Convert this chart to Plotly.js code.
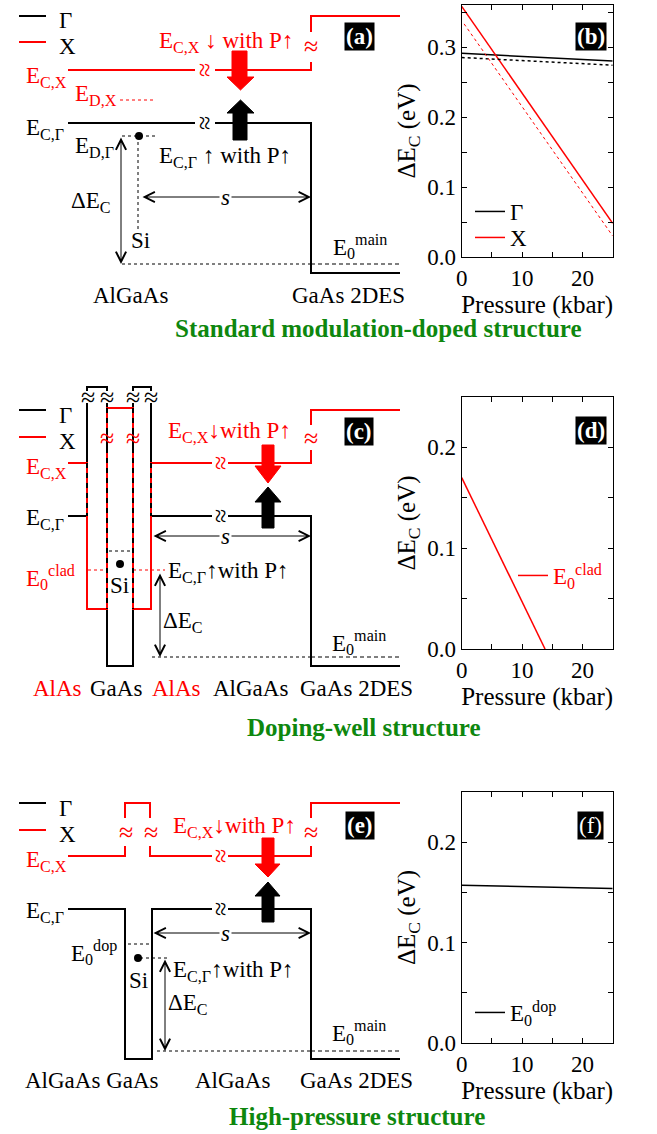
<!DOCTYPE html>
<html><head><meta charset="utf-8">
<script src="https://cdn.plot.ly/plotly-3.0.1.min.js"></script>
<style>html,body{margin:0;padding:0;background:#fff}#chart{width:657px;height:1134px}</style>
</head><body><div id="chart"></div>
<script>
// ===== data for the right-hand plots (pressure in kbar, energy in eV) =====
const pressure = [0, 25];
const gammaB = [0.291, 0.280];
const gammaBdotted = [0.285, 0.274];
const xB = [0.358, 0.048];
const xBdottedP = [0.4, 25];
const xBdotted = [0.333, 0.030];
const cladP = [0, 13.8];
const cladE = [0.170, 0.0];
const dopP = [0, 25];
const dopE = [0.157, 0.154];
const xTickVals = [0, 10, 20];
const xTickText = ['0', '10', '20'];
const yTickValsB = [0, 0.1, 0.2, 0.3];
const yTickTextB = ['0.0', '0.1', '0.2', '0.3'];
const yTickValsDF = [0, 0.1, 0.2];
const yTickTextDF = ['0.0', '0.1', '0.2'];

// ===== schematic band diagrams (schematic units) =====
// (a) standard modulation-doped
const aGammaX = [68,195,null,215,311,311,400];
const aGammaY = [123,123,null,123,123,273,273];
const aXX = [68,195,null,215,311,311,null,311,311,400];
const aXY = [70,70,null,70,70,62,null,32,16,16];
const aMainX = [311,400], aMainY = [264,264];
const aDotX = [122,311,null,122,156,null,138,138];
const aDotY = [264,264,null,136,136,null,136,230];
const aDXX = [120,156], aDXY = [100,100];
const aSiX = [139], aSiY = [136];
const aDownX = [232,247,247,254,240.5,227,232,232], aDownY = [51,51,77,77,90,77,77,51];
const aUpX = [240.5,254,247,247,233,233,227,240.5], aUpY = [100,113,113,140,140,113,113,100];
// (c) doping-well
const cGammaX = [68,87,87,null,87,87,107,107,null,107,107,133,133,null,133,133,151,151,null,151,151,212,null,228,311,311,400];
const cGammaY = [516,516,403,null,391,387,387,391,null,403,666,666,403,null,391,387,387,391,null,403,516,516,null,516,516,666,666];
const cXX = [68,87,87,107,107,null,107,107,133,133,null,133,133,151,151,212,null,228,311,311,null,311,311,400];
const cXY = [463,463,609,609,448,null,428,408,408,428,null,448,609,609,463,463,null,463,463,450,null,425,410,410];
const cOverX = [87,87,null,107,107,null,133,133,null,151,151];
const cOverY = [463,516,null,408,609,null,408,609,null,463,516];
const cDotRedX = [88,107,null,133,165], cDotRedY = [570,570,null,570,570];
const cDotBlkX = [109,131,null,152,311], cDotBlkY = [551,551,null,657,657];
const cMainX = [311,400], cMainY = [657,657];
const cSiX = [120], cSiY = [564];
const cDownX = [262,274,274,281,268,255,262,262], cDownY = [445,445,466,466,483,466,466,445];
const cUpX = [268,281,274,274,262,262,255,268], cUpY = [487,502,502,528,528,502,502,487];
// (e) high-pressure
const eGammaX = [68,125,125,152,152,212,null,228,311,311,400];
const eGammaY = [909,909,1059,1059,909,909,null,909,909,1059,1059];
const eXX = [68,125,125,null,125,125,150,150,null,150,150,212,null,228,311,311,null,311,311,400];
const eXY = [856,856,846,null,818,803,803,818,null,846,856,856,null,856,856,846,null,818,803,803];
const eMainX = [311,400], eMainY = [1051,1051];
const eDotX = [128,150,null,140,170,null,157,311], eDotY = [944,944,null,958,958,null,1051,1051];
const eSiX = [138], eSiY = [958];
const eDownX = [262,274,274,280,268,255,262,262], eDownY = [838,838,864,864,877,864,864,838];
const eUpX = [268,280,274,274,262,262,255,268], eUpY = [882,896,896,922,922,896,896,882];
// keys
const keyX = [19,46];
const keyRowsGamma = [16, 410, 803];
const keyRowsX = [42, 437, 830];

const RED = '#ff0000', BLK = '#000000', GREEN = '#0e870e';
const FONT = 'Liberation Serif, DejaVu Serif, serif';

const data = [];
function L(xs, ys, color, width, dash) {
  data.push({type:'scatter', mode:'lines', x:xs, y:ys, xaxis:'x', yaxis:'y',
    line:{color:color, width:width, dash:dash||'solid'}, hoverinfo:'skip', showlegend:false});
}
function F(xs, ys, color) {
  data.push({type:'scatter', mode:'lines', x:xs, y:ys, xaxis:'x', yaxis:'y', fill:'toself',
    fillcolor:color, line:{color:color, width:1}, hoverinfo:'skip', showlegend:false});
}
function P(xs, ys) {
  data.push({type:'scatter', mode:'markers', x:xs, y:ys, xaxis:'x', yaxis:'y',
    marker:{color:BLK, size:8, symbol:'circle'}, hoverinfo:'skip', showlegend:false});
}
// keys
keyRowsGamma.forEach(r => L(keyX, [r, r], BLK, 2));
keyRowsX.forEach(r => L(keyX, [r, r], RED, 2));
// (a)
L(aDotX, aDotY, BLK, 1, 'dot');
L(aDXX, aDXY, RED, 1, 'dot');
L(aMainX, aMainY, BLK, 1.2, '4px,3px');
L(aGammaX, aGammaY, BLK, 2);
L(aXX, aXY, RED, 2);
P(aSiX, aSiY);
F(aDownX, aDownY, RED); F(aUpX, aUpY, BLK);
// (c)
L(cDotRedX, cDotRedY, RED, 1, 'dot');
L(cDotBlkX, cDotBlkY, BLK, 1, 'dot');
L(cMainX, cMainY, BLK, 1.2, '4px,3px');
L(cGammaX, cGammaY, BLK, 2);
L(cXX, cXY, RED, 2);
L(cOverX, cOverY, BLK, 2, '5px,5px');
P(cSiX, cSiY);
F(cDownX, cDownY, RED); F(cUpX, cUpY, BLK);
// (e)
L(eDotX, eDotY, BLK, 1, 'dot');
L(eMainX, eMainY, BLK, 1.2, '4px,3px');
L(eGammaX, eGammaY, BLK, 2);
L(eXX, eXY, RED, 2);
P(eSiX, eSiY);
F(eDownX, eDownY, RED); F(eUpX, eUpY, BLK);

// ===== right-hand plots =====
data.push({type:'scatter', mode:'lines', x:pressure, y:gammaB, xaxis:'x2', yaxis:'y2', name:'Γ',
  line:{color:BLK, width:1.5}, legend:'legend'});
data.push({type:'scatter', mode:'lines', x:pressure, y:xB, xaxis:'x2', yaxis:'y2', name:'X',
  line:{color:RED, width:1.5}, legend:'legend4'});
data.push({type:'scatter', mode:'lines', x:pressure, y:gammaBdotted, xaxis:'x2', yaxis:'y2', name:'Γ (dotted)',
  line:{color:BLK, width:1.5, dash:'dot'}, showlegend:false});
data.push({type:'scatter', mode:'lines', x:xBdottedP, y:xBdotted, xaxis:'x2', yaxis:'y2', name:'X (dotted)',
  line:{color:RED, width:1, dash:'dot'}, showlegend:false});
data.push({type:'scatter', mode:'lines', x:cladP, y:cladE, xaxis:'x3', yaxis:'y3', name:'E<sub>0</sub><sup>clad</sup>',
  line:{color:RED, width:1.5}, legend:'legend2'});
data.push({type:'scatter', mode:'lines', x:dopP, y:dopE, xaxis:'x4', yaxis:'y4', name:'E<sub>0</sub><sup>dop</sup>',
  line:{color:BLK, width:1.5}, legend:'legend3'});

const H = 1134, W = 657;
const xdom = [461.7/W, 612.7/W];
function ydom(top, bot) { return [1 - bot/H, 1 - top/H]; }
function xAx(anchor) {
  return {domain:xdom, range:[0,25], anchor:anchor, showline:true, mirror:'allticks', linecolor:BLK, linewidth:1,
    ticks:'inside', ticklen:5, tickwidth:1, tickcolor:BLK, tickvals:xTickVals, ticktext:xTickText,
    tickfont:{family:FONT, size:23, color:BLK}, showgrid:false, zeroline:false,
    minor:{ticks:'inside', ticklen:5, tickwidth:1, tickcolor:BLK, dtick:5, tick0:0, showgrid:false},
    title:{text:'Pressure (kbar)', font:{family:FONT, size:25, color:BLK}, standoff:2}, automargin:false, fixedrange:true};
}
function yAx(anchor, dom, top, tv, tt) {
  return {domain:dom, range:[0,top], anchor:anchor, showline:true, mirror:'allticks', linecolor:BLK, linewidth:1,
    ticks:'inside', ticklen:5, tickwidth:1, tickcolor:BLK, tickvals:tv, ticktext:tt,
    tickfont:{family:FONT, size:23, color:BLK}, showgrid:false, zeroline:false,
    minor:{ticks:'inside', ticklen:5, tickwidth:1, tickcolor:BLK, dtick:0.05, tick0:0, showgrid:false},
    title:{text:'ΔE<sub>C</sub> (eV)', font:{family:FONT, size:25, color:BLK}, standoff:4}, automargin:false, fixedrange:true};
}

const ann = [];
function T(x, y, text, color, o) {
  o = o || {};
  ann.push(Object.assign({x:x, y:y, xref:'x', yref:'y', text:text, showarrow:false, xanchor:'left', yanchor:'middle',
    font:{family:FONT, size:23, color:color||BLK}}, o));
}
function Z(x, y, color, rot) {
  ann.push({x:x, y:y, xref:'x', yref:'y', text:'≈', showarrow:false, xanchor:'center', yanchor:'middle',
    textangle: rot ? 90 : 0, font:{family:FONT, size:26, color:color}});
}
function A(x0, y0, x1, y1) {
  ann.push({x:x1, y:y1, ax:x0, ay:y0, xref:'x', yref:'y', axref:'x', ayref:'y', text:'', showarrow:true,
    arrowside:'end+start', arrowhead:5, startarrowhead:5, arrowsize:2, startarrowsize:2, arrowwidth:1,
    arrowcolor:BLK, standoff:0, startstandoff:0, font:{size:1}});
}
function B(x, y, text, bold) {
  ann.push({x:x, y:y, xref:'x', yref:'y', text:text, showarrow:false, xanchor:'center', yanchor:'middle',
    bgcolor:BLK, borderpad:1, font:{family:FONT, size:23, color:'#ffffff', weight: bold === false ? 'normal' : 'bold'}});
}
function G(x, y, text) {
  ann.push({x:x, y:y, xref:'x', yref:'y', text:text, showarrow:false, xanchor:'center', yanchor:'middle',
    font:{family:FONT, size:25, color:GREEN, weight:'bold'}});
}
function S(x, y) {
  ann.push({x:x, y:y, xref:'x', yref:'y', text:'s', showarrow:false, xanchor:'center', yanchor:'middle',
    bgcolor:'#ffffff', font:{family:FONT, size:23, color:BLK, style:'italic'}});
}

// ----- (a) -----
T(57, 20, 'Γ'); T(57, 46, 'X');
T(24, 77, 'E<sub>C,X</sub>', RED);
T(73, 95, 'E<sub>D,X</sub>', RED);
T(24, 129, 'E<sub>C,Γ</sub>');
T(73, 147, 'E<sub>D,Γ</sub>');
T(69, 202, 'ΔE<sub>C</sub>');
T(129, 240, 'Si');
T(157, 42, 'E<sub>C,X</sub> ↓ with P↑', RED);
T(157, 157, 'E<sub>C,Γ</sub> ↑ with P↑');
T(331, 246, 'E<sub>0</sub><sup>main</sup>');
T(91, 295, 'AlGaAs'); T(290, 295, 'GaAs 2DES');
Z(205, 70, RED, true); Z(205, 123, BLK, true); Z(311, 46, RED, false);
A(121, 136, 121, 264);
A(141, 197, 311, 197);
S(225, 197);
B(359.5, 36.5, '(a)'); B(590.5, 36.5, '(b)');
G(378, 328, 'Standard modulation-doped structure');

// ----- (c) -----
T(57, 415, 'Γ'); T(57, 441, 'X');
T(24, 468, 'E<sub>C,X</sub>', RED);
T(24, 519, 'E<sub>C,Γ</sub>');
T(24, 577, 'E<sub>0</sub><sup>clad</sup>', RED);
T(108, 585, 'Si');
T(166, 432, 'E<sub>C,X</sub>↓with P↑', RED);
T(166, 572, 'E<sub>C,Γ</sub>↑with P↑');
T(161, 622, 'ΔE<sub>C</sub>');
T(330, 642, 'E<sub>0</sub><sup>main</sup>');
T(31, 688, 'AlAs', RED); T(88, 688, 'GaAs'); T(150, 688, 'AlAs', RED);
T(211, 688, 'AlGaAs'); T(298, 688, 'GaAs 2DES');
Z(88, 397, BLK, false); Z(107, 397, BLK, false); Z(133, 397, BLK, false); Z(151, 397, BLK, false);
Z(107, 438, RED, false); Z(133, 438, RED, false); Z(311, 438, RED, false);
Z(221, 463, RED, true); Z(221, 516, BLK, true);
A(160, 572, 160, 657);
A(152, 536, 311, 536);
S(225, 536);
B(358.5, 431.5, '(c)'); B(590.5, 430, '(d)');
G(364, 727, 'Doping-well structure');

// ----- (e) -----
T(57, 808, 'Γ'); T(57, 834, 'X');
T(24, 861, 'E<sub>C,X</sub>', RED);
T(24, 912, 'E<sub>C,Γ</sub>');
T(69, 952, 'E<sub>0</sub><sup>dop</sup>');
T(127, 980, 'Si');
T(171, 827, 'E<sub>C,X</sub>↓with P↑', RED);
T(171, 971, 'E<sub>C,Γ</sub>↑with P↑');
T(166, 1004, 'ΔE<sub>C</sub>');
T(330, 1032, 'E<sub>0</sub><sup>main</sup>');
T(23, 1080, 'AlGaAs GaAs'); T(193, 1080, 'AlGaAs'); T(298, 1080, 'GaAs 2DES');
Z(126, 832, RED, false); Z(151, 832, RED, false); Z(311, 832, RED, false);
Z(221, 856, RED, true); Z(221, 909, BLK, true);
A(165, 958, 165, 1051);
A(152, 933, 311, 933);
S(225, 933);
B(359.5, 825.5, '(e)'); B(590.5, 825.5, '(f)', false);
G(356.5, 1116, 'High-pressure structure');

function leg(x, y, color) {
  return {x:x/W, y:1 - y/H, xref:'paper', yref:'paper', xanchor:'left', yanchor:'top', bgcolor:'rgba(0,0,0,0)',
    borderwidth:0, itemwidth:30, font:{family:FONT, size:23, color:color||BLK}, tracegroupgap:0};
}

const layout = {
  width:W, height:H, margin:{l:0, r:0, t:0, b:0}, paper_bgcolor:'#ffffff', plot_bgcolor:'rgba(0,0,0,0)',
  showlegend:true, font:{family:FONT, color:BLK},
  xaxis:{domain:[0,1], range:[0,W], visible:false, fixedrange:true},
  yaxis:{domain:[0,1], range:[H,0], visible:false, fixedrange:true},
  xaxis2:xAx('y2'), yaxis2:yAx('x2', ydom(5,257), 0.36, yTickValsB, yTickTextB),
  xaxis3:xAx('y3'), yaxis3:yAx('x3', ydom(397,649), 0.25, yTickValsDF, yTickTextDF),
  xaxis4:xAx('y4'), yaxis4:yAx('x4', ydom(792,1043), 0.25, yTickValsDF, yTickTextDF),
  legend:leg(470, 190), legend4:leg(470, 216), legend2:leg(513, 554, RED), legend3:leg(470, 991),
  annotations:ann
};
Plotly.newPlot('chart', data, layout, {staticPlot:true});
</script></body></html>
